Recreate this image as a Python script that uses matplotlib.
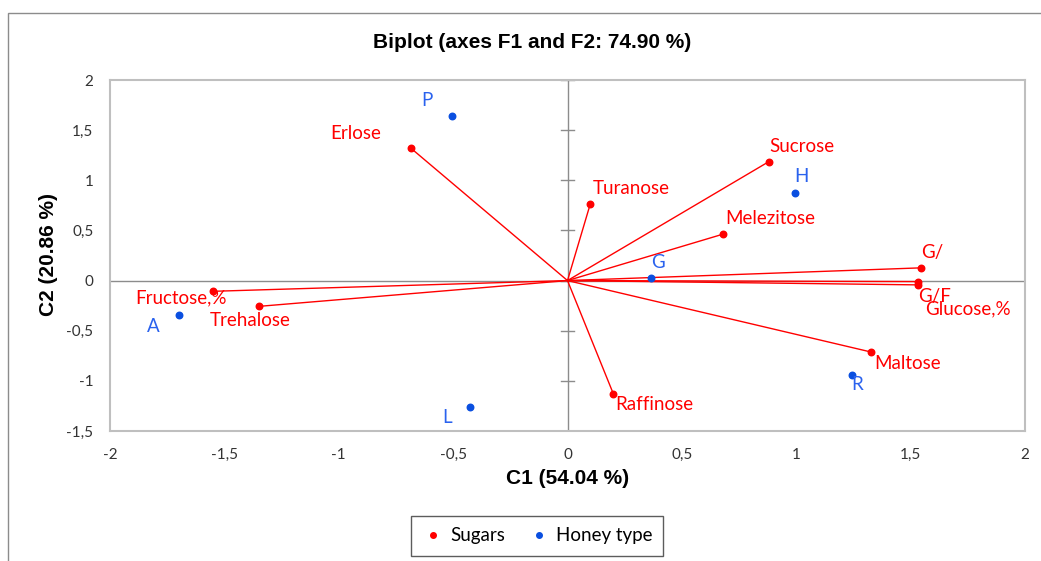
import matplotlib.pyplot as plt
from matplotlib.lines import Line2D
from matplotlib.patches import Rectangle

# Sugars (variables) - coordinates on C1/C2
sugar_names = ['Erlose', 'Fructose,%', 'Trehalose', 'Turanose', 'Sucrose', 'Melezitose',
               'G/', 'G/F', 'Glucose,%', 'Maltose', 'Raffinose']
sugar_x = [-0.683, -1.549, -1.348, 0.100, 0.881, 0.680, 1.547, 1.533, 1.533, 1.328, 0.200]
sugar_y = [1.317, -0.107, -0.257, 0.767, 1.187, 0.463, 0.127, -0.010, -0.043, -0.713, -1.127]

# Honey types (observations)
honey_names = ['P', 'H', 'G', 'R', 'A', 'L']
honey_x = [-0.505, 0.993, 0.367, 1.243, -1.697, -0.428]
honey_y = [1.64, 0.87, 0.03, -0.94, -0.343, -1.263]

xticks = [-2, -1.5, -1, -0.5, 0, 0.5, 1, 1.5, 2]
yticks = [-1.5, -1, -0.5, 0, 0.5, 1, 1.5, 2]

# label offsets in pixels (dx right, dy up)
sugar_off = [(-56, 15), (-32, -7), (-9, -14), (41, 15), (33, 15), (47, 16),
             (11, 15), (16, -15), (50, -24), (36, -11), (41, -11)]
honey_off = [(-25, 16), (7, 17), (7, 15), (5, -10), (-26, -12), (-23, -10)]

RED = '#ff0000'
BLUE = '#0a4fe0'
BLUE_TXT = '#2a62ee'
LABEL_FONT = 'Lato'

W, H = 1041, 561
fig = plt.figure(figsize=(W / 100, H / 100), dpi=100)
fig.patches.append(Rectangle((8 / W, -0.1), 1.2, 1 - 13 / H + 0.1, transform=fig.transFigure,
                             fill=False, edgecolor='#8c8c8c', linewidth=1))

ax = fig.add_axes([110 / W, 1 - 431 / H, (1025 - 110) / W, (431 - 80) / H])
ax.set_xlim(-2, 2)
ax.set_ylim(-1.5, 2)

for s in ax.spines.values():
    s.set_color('#bfbfbf')
    s.set_linewidth(1.5)

# central axes
ax.axhline(0, color='#8c8c8c', linewidth=1, zorder=1)
ax.axvline(0, color='#8c8c8c', linewidth=1, zorder=1)
for t in yticks:
    ax.plot([-0.028, 0.028], [t, t], color='#8c8c8c', linewidth=1, zorder=1)

ax.set_xticks(xticks)
ax.set_yticks(yticks)
fmt = lambda v: ('%g' % v).replace('.', ',')
ax.set_xticklabels([fmt(v) for v in xticks], family=LABEL_FONT, fontsize=11, color='#333333')
ax.set_yticklabels([fmt(v) for v in yticks], family=LABEL_FONT, fontsize=11, color='#333333')
ax.tick_params(length=0, pad=12)

# vectors
for x, y in zip(sugar_x, sugar_y):
    ax.plot([0, x], [0, y], color=RED, linewidth=1, zorder=2)
ax.scatter(sugar_x, sugar_y, s=22, color=RED, zorder=3)
ax.scatter(honey_x, honey_y, s=22, color=BLUE, zorder=3)

for n, x, y, (dx, dy) in zip(sugar_names, sugar_x, sugar_y, sugar_off):
    ax.annotate(n, (x, y), xytext=(dx, dy), textcoords='offset pixels', ha='center', va='center',
                color=RED, fontsize=13.5, family=LABEL_FONT)
for n, x, y, (dx, dy) in zip(honey_names, honey_x, honey_y, honey_off):
    ax.annotate(n, (x, y), xytext=(dx, dy), textcoords='offset pixels', ha='center', va='center',
                color=BLUE_TXT, fontsize=13.5, family=LABEL_FONT)

fig.text(532 / W, 1 - 43 / H, 'Biplot (axes F1 and F2: 74.90 %)', ha='center', va='center',
         fontsize=15, fontweight='bold', family='Liberation Sans')
fig.text(568 / W, 1 - 478 / H, 'C1 (54.04 %)', ha='center', va='center',
         fontsize=15, fontweight='bold', family='Liberation Sans')
fig.text(48 / W, 1 - 255 / H, 'C2 (20.86 %)', ha='center', va='center', rotation=90,
         fontsize=15, fontweight='bold', family='Liberation Sans')

handles = [Line2D([], [], marker='o', linestyle='', color=RED, markersize=4, label='Sugars'),
           Line2D([], [], marker='o', linestyle='', color=BLUE, markersize=4, label='Honey type')]
leg = fig.legend(handles=handles, loc='center', bbox_to_anchor=(537 / W, 1 - 536 / H), ncol=2,
                 frameon=True, fancybox=False, edgecolor='#333333', handletextpad=0.3,
                 columnspacing=1.2, handlelength=1.2, borderpad=0.6,
                 prop={'family': LABEL_FONT, 'size': 13.5})
leg.get_frame().set_linewidth(1)

fig.savefig('out.png', dpi=100)
